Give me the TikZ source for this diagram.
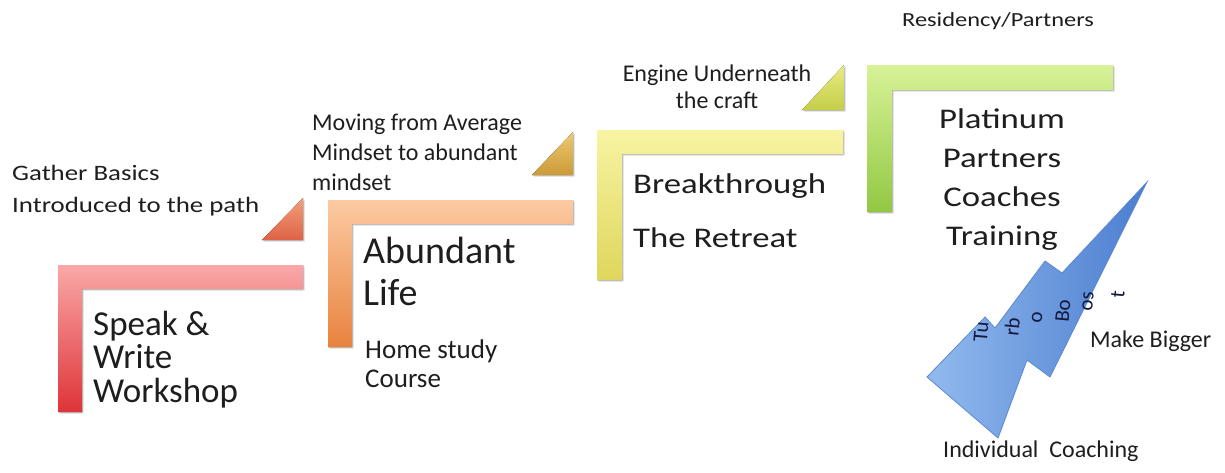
\documentclass[tikz,border=0pt]{standalone}
\usepackage{fontspec}
\setmainfont{Carlito}
\newfontfamily\widefont{Carlito}[FakeStretch=1.22]
\usetikzlibrary{shadows}

\definecolor{txt}{RGB}{30,30,30}
\definecolor{redhi}{RGB}{250,168,168}
\definecolor{redlo}{RGB}{222,52,56}
\definecolor{orghi}{RGB}{252,202,162}
\definecolor{orglo}{RGB}{232,130,62}
\definecolor{yelhi}{RGB}{248,244,162}
\definecolor{yello}{RGB}{222,214,92}
\definecolor{grnhi}{RGB}{216,242,152}
\definecolor{grnlo}{RGB}{145,200,66}
\definecolor{boltlight}{RGB}{146,186,238}
\definecolor{boltdark}{RGB}{76,126,208}
\definecolor{boltline}{RGB}{92,136,210}

\begin{document}
\begin{tikzpicture}[x=1pt, y=-1pt,
    corner/.style={drop shadow={opacity=0.3, shadow xshift=1.5pt, shadow yshift=-1.5pt}},
    lbl/.style={inner sep=0pt, anchor=base west, text=txt, align=left},
    small/.style={font=\fontsize{24}{30}\selectfont},
    big/.style={font=\widefont\fontsize{28.5}{39}\selectfont}]
    \useasboundingbox (0,0) rectangle (1225,472);
    \fill[white] (0,0) rectangle (1225,472);

    % steps, lowest first
    \fill[corner, top color=redhi, bottom color=redlo] (58,265) -| (303,289) -| (82,412) -| cycle;
    \fill[corner, top color={rgb,255:red,242;green,160;blue,122}, bottom color={rgb,255:red,222;green,98;blue,70}] (262,240) -- (303,240) -- (303,198) -- cycle;
    \fill[corner, top color=orghi, bottom color=orglo] (328,200) -| (573,224) -| (352,347) -| cycle;
    \fill[corner, top color={rgb,255:red,236;green,202;blue,112}, bottom color={rgb,255:red,204;green,154;blue,56}] (532,175) -- (573,175) -- (573,132) -- cycle;
    \fill[corner, top color=yelhi, bottom color=yello] (597,130) -| (843,154) -| (622,280) -| cycle;
    \fill[corner, top color={rgb,255:red,232;green,236;blue,130}, bottom color={rgb,255:red,196;green,206;blue,72}] (802,110) -- (844,110) -- (844,65) -- cycle;
    \fill[corner, top color=grnhi, bottom color=grnlo] (867,65) -| (1113,90) -| (892,212) -| cycle;

    % bolt
    \draw[boltline, line width=0.8pt, left color=boltlight, right color=boltdark]
        (1147,182) -- (1050,377) -- (1027,360) -- (998,438) -- (927,377)
        -- (985,317) -- (995,328) -- (1045,261) -- (1062,273) -- cycle;
    \begin{scope}[every node/.style={font=\fontsize{21}{21}\selectfont, text={rgb,255:red,20;green,24;blue,60}, rotate=85, inner sep=0pt}]
        \node (tu) at (981,332) {Tu};
        \node (rb) at (1012,327) {rb};
        \node (o) at (1037,318) {o};
        \node (bo) at (1063,311) {Bo};
        \node (os) at (1088,301) {os};
        \node (t) at (1118,294) {t};
    \end{scope}

    % labels sit on the baseline of their last line
    \node[lbl, font=\widefont\fontsize{22}{32}\selectfont] (basics) at (12,212) {Gather Basics\\Introduced to the path};
    \node[lbl, font=\fontsize{24}{30}\selectfont] (moving) at (312,190) {Moving from Average\\Mindset to abundant\\mindset};
    \node[lbl, font=\fontsize{24}{26.5}\selectfont, align=center, anchor=base] (engine) at (717,108) {Engine Underneath\\the craft};
    \node[lbl, font=\widefont\fontsize{20}{20}\selectfont] (residency) at (902,26) {Residency/Partners};

    \node[lbl, font=\fontsize{35}{33.5}\selectfont] (speak) at (93,402) {Speak \&\\Write\\Workshop};
    \node[lbl, font=\fontsize{38}{42}\selectfont] (abundant) at (363,305) {Abundant\\Life};
    \node[lbl, font=\fontsize{27}{29}\selectfont] (homestudy) at (365,387) {Home study\\Course};
    \node[lbl, big] (breakthrough) at (633,193) {Breakthrough};
    \node[lbl, big] (retreat) at (633,247) {The Retreat};
    \node[lbl, big, align=center, anchor=base] (platinum) at (1002,245) {Platinum\\Partners\\Coaches\\Training};

    \node[lbl, small] (bigger) at (1090,347) {Make Bigger};
    \node[lbl, small] (coaching) at (943,457) {Individual\ \ Coaching};
\end{tikzpicture}
\end{document}
